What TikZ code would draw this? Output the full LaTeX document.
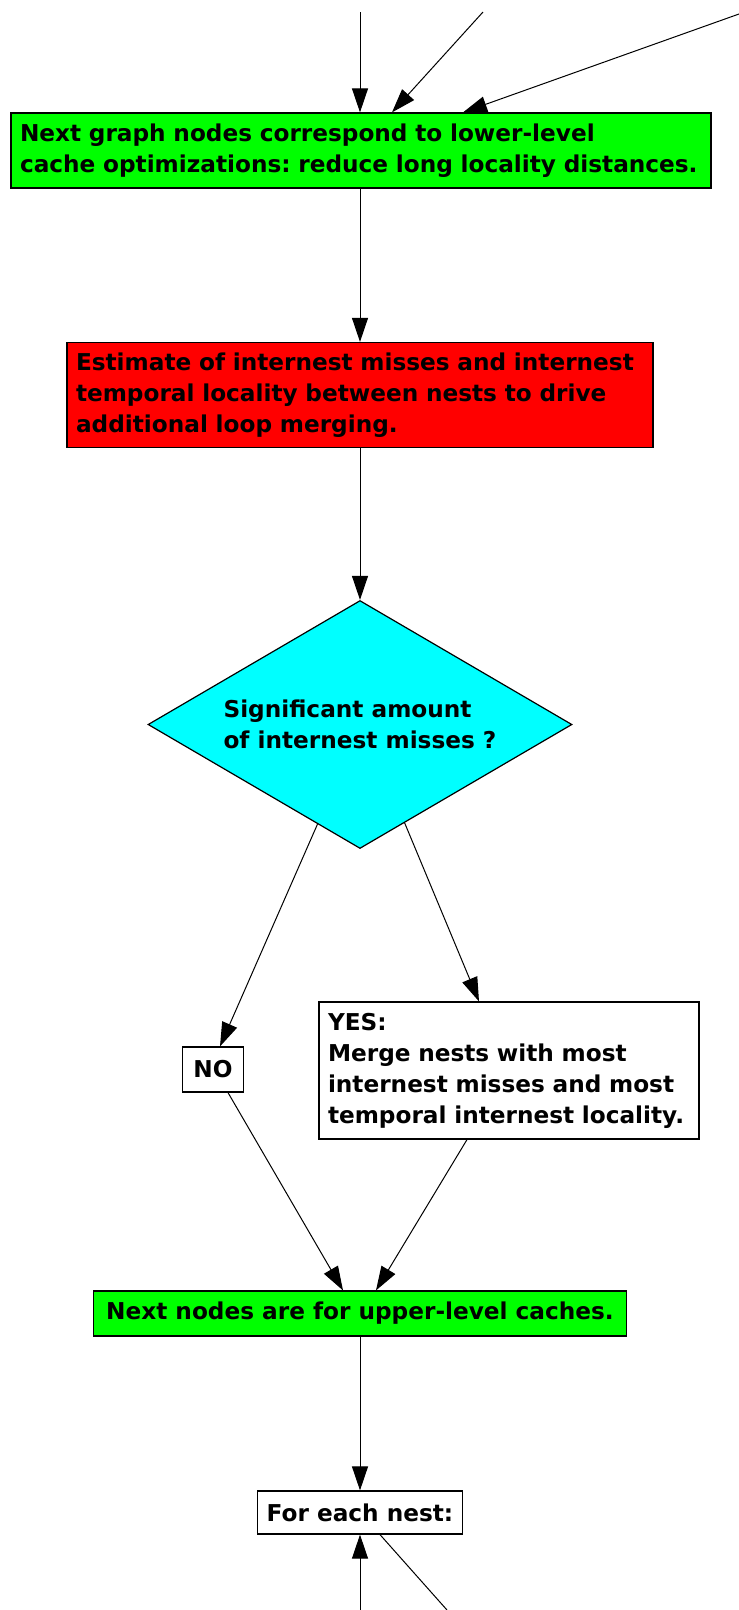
\documentclass[tikz,border=0pt]{standalone}
\usepackage{fontspec}
\setmainfont{DejaVu Sans}
\usetikzlibrary{shapes.geometric,arrows.meta,calc}
\definecolor{querycyan}{RGB}{0,255,255}
\definecolor{stepgreen}{RGB}{0,255,0}
\definecolor{stepred}{RGB}{255,0,0}
\frenchspacing

\begin{document}
\begin{tikzpicture}[x=1pt,y=-1pt,
    flowbox/.style={rectangle, draw=black, line width=1.2pt, inner xsep=9pt, inner ysep=0pt, align=left, font=\bfseries\fontsize{23.2}{31}\selectfont},
    greenbox/.style={flowbox, fill=stepgreen},
    redbox/.style={flowbox, fill=stepred},
    plainbox/.style={flowbox, fill=white, align=center},
    question/.style={diamond, draw=black, line width=1.2pt, fill=querycyan, aspect=1.7, inner sep=0pt, minimum width=424pt, minimum height=248pt, align=left, font=\bfseries\fontsize{23.2}{31}\selectfont},
    flow/.style={line width=1pt, -{Triangle[length=24pt,width=16pt]}}
    ]
    \useasboundingbox (0,0) rectangle (739,1610);

    \node [greenbox, text width=682pt, minimum height=75pt] (lower) at (361,150.5) {Next graph nodes correspond to lower-level\\cache optimizations: reduce long locality distances.};
    \node [redbox, text width=568pt, minimum height=105pt] (estimate) at (360,395) {Estimate of internest misses and internest\\temporal locality between nests to drive\\additional loop merging.};
    \node [question] (query) at (360,724.5) {Significant amount\\of internest misses ?};
    \node [plainbox, minimum width=61pt, minimum height=45pt] (no) at (213,1069.5) {NO};
    \node [flowbox, fill=white, text width=362pt, minimum height=137pt] (yes) at (509,1070.5) {YES:\\Merge nests with most\\internest misses and most\\temporal internest locality.};
    \node [greenbox, align=center, minimum width=533pt, minimum height=45pt] (upper) at (360,1313.5) {Next nodes are for upper-level caches.};
    \node [plainbox, minimum width=201pt, minimum height=43pt] (each) at (360,1512.5) {For each nest:};

    \coordinate (inA) at (360,12);
    \coordinate (inB) at (483,12);
    \coordinate (inC) at (739,14);
    \coordinate (outA) at (360,1610);
    \coordinate (outB) at (447,1610);

    \draw [flow] (inA) -- ([xshift=-1pt]lower.north);
    \draw [flow] (inB) -- ([xshift=31pt]lower.north);
    \draw [flow] (inC) -- ([xshift=102pt]lower.north);
    \draw [flow] ([xshift=-1pt]lower.south) -- (estimate);
    \draw [flow] (estimate) -- (query);

    \draw [flow] ($(query.south)!0.2!(query.west)$) -- ([xshift=7pt]no.north);
    \draw [flow] ($(query.south)!0.21!(query.east)$) -- ([xshift=-30pt]yes.north);
    \draw [flow] ([xshift=15pt]no.south) -- ([xshift=-17pt]upper.north);
    \draw [flow] ([xshift=-42pt]yes.south) -- ([xshift=16pt]upper.north);

    \draw [flow] (upper) -- (each);
    \draw [flow] (outA) -- (each);
    \draw [line width=1pt] ([xshift=20pt]each.south) -- (outB);
\end{tikzpicture}
\end{document}
